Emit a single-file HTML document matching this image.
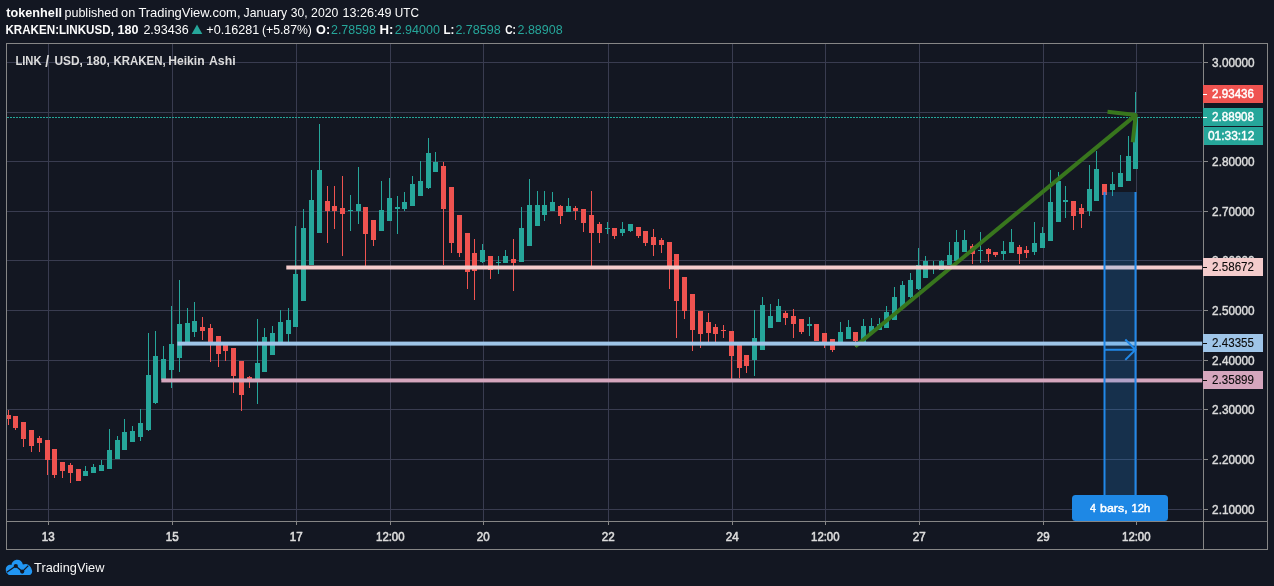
<!DOCTYPE html>
<html lang="en">
<head>
<meta charset="utf-8">
<title>LINK / USD chart by tokenhell - TradingView</title>
<style>
html,body{margin:0;padding:0;background:#131722;}
body{width:1274px;height:586px;overflow:hidden;}
svg{display:block;}
svg text{font-family:"Liberation Sans",sans-serif;white-space:pre;}
</style>
</head>
<body>
<svg width="1274" height="586" viewBox="0 0 1274 586" role="img" aria-label="LINK / USD Heikin Ashi chart">
<defs><clipPath id="plot"><rect x="7" y="44" width="1196" height="477"/></clipPath></defs>
<rect width="1274" height="586" fill="#131722"/>
<text y="17" font-size="13"><tspan x="6.30" textLength="55.68" lengthAdjust="spacingAndGlyphs" fill="#fcfcfc" font-weight="bold">tokenhell</tspan> <tspan x="64.44" textLength="53.70" lengthAdjust="spacingAndGlyphs" fill="#fcfcfc">published</tspan> <tspan x="121.10" textLength="14.16" lengthAdjust="spacingAndGlyphs" fill="#fcfcfc">on</tspan> <tspan x="138.40" textLength="102.11" lengthAdjust="spacingAndGlyphs" fill="#fcfcfc">TradingView.com,</tspan> <tspan x="243.60" textLength="43.54" lengthAdjust="spacingAndGlyphs" fill="#fcfcfc">January</tspan> <tspan x="290.70" textLength="16.80" lengthAdjust="spacingAndGlyphs" fill="#fcfcfc">30,</tspan> <tspan x="311.10" textLength="27.23" lengthAdjust="spacingAndGlyphs" fill="#fcfcfc">2020</tspan> <tspan x="342.43" textLength="48.96" lengthAdjust="spacingAndGlyphs" fill="#fcfcfc">13:26:49</tspan> <tspan x="394.80" textLength="24.15" lengthAdjust="spacingAndGlyphs" fill="#fcfcfc">UTC</tspan></text>
<text y="34" font-size="13"><tspan x="5.41" textLength="108.50" lengthAdjust="spacingAndGlyphs" fill="#fcfcfc" font-weight="bold">KRAKEN:LINKUSD,</tspan> <tspan x="117.50" textLength="20.98" lengthAdjust="spacingAndGlyphs" fill="#fcfcfc" font-weight="bold">180</tspan> <tspan x="143.40" textLength="45.30" lengthAdjust="spacingAndGlyphs" fill="#fcfcfc">2.93436</tspan></text>
<polygon points="191.7,34.1 197,24.6 202.3,34.1" fill="#26a69a"/>
<text y="34" font-size="13"><tspan x="206.30" textLength="52.88" lengthAdjust="spacingAndGlyphs" fill="#fcfcfc">+0.16281</tspan> <tspan x="261.96" textLength="49.96" lengthAdjust="spacingAndGlyphs" fill="#fcfcfc">(+5.87%)</tspan> <tspan x="316.10" textLength="14.12" lengthAdjust="spacingAndGlyphs" fill="#fcfcfc" font-weight="bold">O:</tspan> <tspan x="331.00" textLength="44.90" lengthAdjust="spacingAndGlyphs" fill="#26a69a">2.78598</tspan> <tspan x="379.48" textLength="13.95" lengthAdjust="spacingAndGlyphs" fill="#fcfcfc" font-weight="bold">H:</tspan> <tspan x="394.70" textLength="45.20" lengthAdjust="spacingAndGlyphs" fill="#26a69a">2.94000</tspan> <tspan x="443.41" textLength="10.93" lengthAdjust="spacingAndGlyphs" fill="#fcfcfc" font-weight="bold">L:</tspan> <tspan x="455.40" textLength="45.30" lengthAdjust="spacingAndGlyphs" fill="#26a69a">2.78598</tspan> <tspan x="505.20" textLength="10.66" lengthAdjust="spacingAndGlyphs" fill="#fcfcfc" font-weight="bold">C:</tspan> <tspan x="517.50" textLength="45.10" lengthAdjust="spacingAndGlyphs" fill="#26a69a">2.88908</tspan></text>
<g fill="#393c50" shape-rendering="crispEdges">
<rect x="7" y="62" width="1195" height="1"/>
<rect x="7" y="112" width="1195" height="1"/>
<rect x="7" y="161" width="1195" height="1"/>
<rect x="7" y="211" width="1195" height="1"/>
<rect x="7" y="260" width="1195" height="1"/>
<rect x="7" y="310" width="1195" height="1"/>
<rect x="7" y="360" width="1195" height="1"/>
<rect x="7" y="409" width="1195" height="1"/>
<rect x="7" y="459" width="1195" height="1"/>
<rect x="7" y="509" width="1195" height="1"/>
<rect x="48" y="44" width="1" height="477"/>
<rect x="172" y="44" width="1" height="477"/>
<rect x="296" y="44" width="1" height="477"/>
<rect x="390" y="44" width="1" height="477"/>
<rect x="483" y="44" width="1" height="477"/>
<rect x="608" y="44" width="1" height="477"/>
<rect x="732" y="44" width="1" height="477"/>
<rect x="825" y="44" width="1" height="477"/>
<rect x="919" y="44" width="1" height="477"/>
<rect x="1043" y="44" width="1" height="477"/>
<rect x="1136" y="44" width="1" height="477"/>
</g>
<g shape-rendering="crispEdges" clip-path="url(#plot)">
<path fill="#ef5350" d="M8 410h1v15h-1zM6 415h5v4h-5z"/>
<path fill="#ef5350" d="M15 416h1v14h-1zM13 416h5v12h-5z"/>
<path fill="#ef5350" d="M23 422h1v25h-1zM21 422h5v17h-5z"/>
<path fill="#ef5350" d="M31 430h1v22h-1zM29 430h5v16h-5z"/>
<path fill="#ef5350" d="M39 436h1v16h-1zM37 438h5v5h-5z"/>
<path fill="#ef5350" d="M47 440h1v35h-1zM45 440h5v20h-5z"/>
<path fill="#ef5350" d="M54 449h1v29h-1zM52 449h5v26h-5z"/>
<path fill="#ef5350" d="M62 462h1v16h-1zM60 462h5v9h-5z"/>
<path fill="#ef5350" d="M70 463h1v20h-1zM68 465h5v8h-5z"/>
<path fill="#ef5350" d="M78 469h1v12h-1zM76 469h5v12h-5z"/>
<path fill="#26a69a" d="M85 466h1v10h-1zM83 471h5v5h-5z"/>
<path fill="#26a69a" d="M93 464h1v9h-1zM91 467h5v6h-5z"/>
<path fill="#26a69a" d="M101 460h1v11h-1zM99 465h5v6h-5z"/>
<path fill="#26a69a" d="M109 429h1v40h-1zM107 450h5v19h-5z"/>
<path fill="#26a69a" d="M117 436h1v23h-1zM115 440h5v19h-5z"/>
<path fill="#26a69a" d="M124 419h1v31h-1zM122 432h5v18h-5z"/>
<path fill="#26a69a" d="M132 426h1v16h-1zM130 431h5v11h-5z"/>
<path fill="#26a69a" d="M140 409h1v32h-1zM138 423h5v14h-5z"/>
<path fill="#26a69a" d="M148 333h1v98h-1zM146 375h5v55h-5z"/>
<path fill="#26a69a" d="M155 331h1v73h-1zM153 356h5v47h-5z"/>
<path fill="#26a69a" d="M163 346h1v34h-1zM161 359h5v21h-5z"/>
<path fill="#26a69a" d="M171 306h1v82h-1zM169 344h5v26h-5z"/>
<path fill="#26a69a" d="M179 280h1v92h-1zM177 324h5v34h-5z"/>
<path fill="#26a69a" d="M187 308h1v34h-1zM185 323h5v19h-5z"/>
<path fill="#26a69a" d="M194 302h1v35h-1zM192 321h5v11h-5z"/>
<path fill="#ef5350" d="M202 317h1v23h-1zM200 327h5v4h-5z"/>
<path fill="#ef5350" d="M210 324h1v38h-1zM208 328h5v14h-5z"/>
<path fill="#ef5350" d="M218 336h1v31h-1zM216 336h5v18h-5z"/>
<path fill="#ef5350" d="M225 345h1v16h-1zM223 345h5v6h-5z"/>
<path fill="#ef5350" d="M233 348h1v45h-1zM231 348h5v28h-5z"/>
<path fill="#ef5350" d="M241 361h1v50h-1zM239 361h5v34h-5z"/>
<path fill="#ef5350" d="M249 376h1v12h-1zM247 377h5v3h-5z"/>
<path fill="#26a69a" d="M257 319h1v85h-1zM255 363h5v17h-5z"/>
<path fill="#26a69a" d="M264 328h1v44h-1zM262 337h5v35h-5z"/>
<path fill="#26a69a" d="M272 326h1v29h-1zM270 333h5v22h-5z"/>
<path fill="#26a69a" d="M280 310h1v32h-1zM278 322h5v20h-5z"/>
<path fill="#26a69a" d="M288 308h1v37h-1zM286 320h5v14h-5z"/>
<path fill="#26a69a" d="M295 226h1v101h-1zM293 274h5v53h-5z"/>
<path fill="#26a69a" d="M303 209h1v92h-1zM301 228h5v73h-5z"/>
<path fill="#26a69a" d="M311 170h1v95h-1zM309 200h5v65h-5z"/>
<path fill="#26a69a" d="M319 124h1v109h-1zM317 170h5v63h-5z"/>
<path fill="#ef5350" d="M327 186h1v57h-1zM325 201h5v10h-5z"/>
<path fill="#ef5350" d="M334 186h1v43h-1zM332 206h5v5h-5z"/>
<path fill="#ef5350" d="M342 176h1v80h-1zM340 208h5v6h-5z"/>
<path fill="#26a69a" d="M350 195h1v36h-1zM348 210h5v1h-5z"/>
<path fill="#26a69a" d="M358 167h1v57h-1zM356 204h5v7h-5z"/>
<path fill="#ef5350" d="M365 207h1v59h-1zM363 207h5v27h-5z"/>
<path fill="#ef5350" d="M373 220h1v26h-1zM371 220h5v20h-5z"/>
<path fill="#26a69a" d="M381 181h1v50h-1zM379 210h5v21h-5z"/>
<path fill="#26a69a" d="M389 178h1v43h-1zM387 198h5v23h-5z"/>
<path fill="#26a69a" d="M397 196h1v38h-1zM395 207h5v2h-5z"/>
<path fill="#26a69a" d="M404 192h1v19h-1zM402 202h5v7h-5z"/>
<path fill="#26a69a" d="M412 176h1v30h-1zM410 184h5v22h-5z"/>
<path fill="#26a69a" d="M420 161h1v35h-1zM418 181h5v15h-5z"/>
<path fill="#26a69a" d="M428 138h1v51h-1zM426 153h5v35h-5z"/>
<path fill="#26a69a" d="M435 152h1v20h-1zM433 162h5v10h-5z"/>
<path fill="#ef5350" d="M443 162h1v103h-1zM441 166h5v43h-5z"/>
<path fill="#ef5350" d="M451 187h1v66h-1zM449 187h5v56h-5z"/>
<path fill="#ef5350" d="M459 215h1v42h-1zM457 215h5v38h-5z"/>
<path fill="#ef5350" d="M467 233h1v56h-1zM465 233h5v39h-5z"/>
<path fill="#ef5350" d="M474 239h1v61h-1zM472 253h5v18h-5z"/>
<path fill="#26a69a" d="M482 244h1v19h-1zM480 250h5v12h-5z"/>
<path fill="#ef5350" d="M490 256h1v23h-1zM488 256h5v14h-5z"/>
<path fill="#26a69a" d="M498 256h1v18h-1zM496 262h5v1h-5z"/>
<path fill="#26a69a" d="M505 250h1v13h-1zM503 256h5v7h-5z"/>
<path fill="#ef5350" d="M513 239h1v52h-1zM511 259h5v4h-5z"/>
<path fill="#26a69a" d="M521 207h1v55h-1zM519 228h5v34h-5z"/>
<path fill="#26a69a" d="M529 179h1v67h-1zM527 205h5v41h-5z"/>
<path fill="#26a69a" d="M537 191h1v35h-1zM535 205h5v21h-5z"/>
<path fill="#26a69a" d="M544 191h1v30h-1zM542 205h5v10h-5z"/>
<path fill="#26a69a" d="M552 192h1v19h-1zM550 202h5v9h-5z"/>
<path fill="#ef5350" d="M560 205h1v19h-1zM558 206h5v10h-5z"/>
<path fill="#26a69a" d="M568 198h1v14h-1zM566 206h5v6h-5z"/>
<path fill="#ef5350" d="M575 206h1v14h-1zM573 208h5v3h-5z"/>
<path fill="#ef5350" d="M583 209h1v23h-1zM581 209h5v14h-5z"/>
<path fill="#ef5350" d="M591 191h1v75h-1zM589 215h5v18h-5z"/>
<path fill="#ef5350" d="M599 222h1v21h-1zM597 224h5v9h-5z"/>
<path fill="#26a69a" d="M607 222h1v12h-1zM605 228h5v1h-5z"/>
<path fill="#ef5350" d="M614 228h1v11h-1zM612 228h5v8h-5z"/>
<path fill="#26a69a" d="M622 222h1v14h-1zM620 229h5v4h-5z"/>
<path fill="#26a69a" d="M630 224h1v8h-1zM628 224h5v7h-5z"/>
<path fill="#ef5350" d="M638 227h1v11h-1zM636 227h5v9h-5z"/>
<path fill="#ef5350" d="M645 231h1v15h-1zM643 231h5v12h-5z"/>
<path fill="#ef5350" d="M653 229h1v27h-1zM651 237h5v8h-5z"/>
<path fill="#ef5350" d="M661 238h1v15h-1zM659 240h5v5h-5z"/>
<path fill="#ef5350" d="M669 242h1v47h-1zM667 242h5v25h-5z"/>
<path fill="#ef5350" d="M676 254h1v84h-1zM674 254h5v47h-5z"/>
<path fill="#ef5350" d="M684 277h1v42h-1zM682 277h5v34h-5z"/>
<path fill="#ef5350" d="M692 294h1v57h-1zM690 294h5v36h-5z"/>
<path fill="#ef5350" d="M700 311h1v37h-1zM698 311h5v23h-5z"/>
<path fill="#ef5350" d="M708 313h1v29h-1zM706 322h5v11h-5z"/>
<path fill="#ef5350" d="M715 324h1v18h-1zM713 327h5v7h-5z"/>
<path fill="#ef5350" d="M723 325h1v13h-1zM721 330h5v1h-5z"/>
<path fill="#ef5350" d="M731 331h1v48h-1zM729 331h5v25h-5z"/>
<path fill="#ef5350" d="M739 343h1v35h-1zM737 343h5v25h-5z"/>
<path fill="#ef5350" d="M746 355h1v18h-1zM744 355h5v11h-5z"/>
<path fill="#26a69a" d="M754 310h1v66h-1zM752 338h5v22h-5z"/>
<path fill="#26a69a" d="M762 297h1v53h-1zM760 305h5v45h-5z"/>
<path fill="#26a69a" d="M770 304h1v24h-1zM768 316h5v12h-5z"/>
<path fill="#26a69a" d="M778 299h1v23h-1zM776 306h5v16h-5z"/>
<path fill="#ef5350" d="M785 311h1v14h-1zM783 313h5v5h-5z"/>
<path fill="#ef5350" d="M793 309h1v29h-1zM791 316h5v8h-5z"/>
<path fill="#ef5350" d="M801 319h1v15h-1zM799 319h5v13h-5z"/>
<path fill="#26a69a" d="M809 317h1v19h-1zM807 324h5v2h-5z"/>
<path fill="#ef5350" d="M816 324h1v17h-1zM814 324h5v17h-5z"/>
<path fill="#ef5350" d="M824 333h1v15h-1zM822 333h5v9h-5z"/>
<path fill="#ef5350" d="M832 339h1v13h-1zM830 339h5v11h-5z"/>
<path fill="#26a69a" d="M840 322h1v22h-1zM838 332h5v12h-5z"/>
<path fill="#26a69a" d="M848 320h1v19h-1zM846 327h5v12h-5z"/>
<path fill="#ef5350" d="M855 332h1v15h-1zM853 332h5v9h-5z"/>
<path fill="#26a69a" d="M863 319h1v23h-1zM861 326h5v16h-5z"/>
<path fill="#26a69a" d="M871 318h1v15h-1zM869 326h5v7h-5z"/>
<path fill="#26a69a" d="M879 318h1v12h-1zM877 324h5v6h-5z"/>
<path fill="#26a69a" d="M886 306h1v22h-1zM884 312h5v16h-5z"/>
<path fill="#26a69a" d="M894 287h1v33h-1zM892 297h5v23h-5z"/>
<path fill="#26a69a" d="M902 281h1v26h-1zM900 285h5v22h-5z"/>
<path fill="#26a69a" d="M910 273h1v25h-1zM908 280h5v17h-5z"/>
<path fill="#26a69a" d="M918 248h1v42h-1zM916 265h5v24h-5z"/>
<path fill="#26a69a" d="M925 256h1v22h-1zM923 261h5v17h-5z"/>
<path fill="#26a69a" d="M933 261h1v13h-1zM931 267h5v1h-5z"/>
<path fill="#26a69a" d="M941 260h1v10h-1zM939 261h5v9h-5z"/>
<path fill="#26a69a" d="M949 242h1v23h-1zM947 255h5v10h-5z"/>
<path fill="#26a69a" d="M956 230h1v31h-1zM954 242h5v19h-5z"/>
<path fill="#26a69a" d="M964 230h1v22h-1zM962 240h5v12h-5z"/>
<path fill="#ef5350" d="M972 244h1v20h-1zM970 246h5v8h-5z"/>
<path fill="#26a69a" d="M980 232h1v31h-1zM978 250h5v1h-5z"/>
<path fill="#ef5350" d="M988 248h1v14h-1zM986 249h5v5h-5z"/>
<path fill="#ef5350" d="M995 252h1v5h-1zM993 252h5v3h-5z"/>
<path fill="#26a69a" d="M1003 241h1v19h-1zM1001 251h5v3h-5z"/>
<path fill="#26a69a" d="M1011 229h1v24h-1zM1009 242h5v11h-5z"/>
<path fill="#ef5350" d="M1019 245h1v19h-1zM1017 247h5v7h-5z"/>
<path fill="#ef5350" d="M1026 246h1v12h-1zM1024 250h5v3h-5z"/>
<path fill="#26a69a" d="M1034 222h1v33h-1zM1032 243h5v9h-5z"/>
<path fill="#26a69a" d="M1042 227h1v21h-1zM1040 233h5v15h-5z"/>
<path fill="#26a69a" d="M1050 170h1v71h-1zM1048 202h5v39h-5z"/>
<path fill="#26a69a" d="M1058 172h1v50h-1zM1056 181h5v41h-5z"/>
<path fill="#26a69a" d="M1065 186h1v32h-1zM1063 200h5v2h-5z"/>
<path fill="#ef5350" d="M1073 201h1v29h-1zM1071 201h5v15h-5z"/>
<path fill="#ef5350" d="M1081 204h1v24h-1zM1079 208h5v6h-5z"/>
<path fill="#26a69a" d="M1089 165h1v51h-1zM1087 189h5v22h-5z"/>
<path fill="#26a69a" d="M1096 151h1v50h-1zM1094 169h5v32h-5z"/>
<path fill="#ef5350" d="M1104 184h1v11h-1zM1102 184h5v11h-5z"/>
<path fill="#26a69a" d="M1112 172h1v24h-1zM1110 184h5v6h-5z"/>
<path fill="#26a69a" d="M1120 155h1v32h-1zM1118 173h5v14h-5z"/>
<path fill="#26a69a" d="M1128 136h1v45h-1zM1126 156h5v25h-5z"/>
<path fill="#26a69a" d="M1135 92h1v77h-1zM1133 117h5v52h-5z"/>
</g>
<line x1="7" y1="117.5" x2="1202" y2="117.5" stroke="#26a69a" stroke-width="1" stroke-dasharray="2 1" shape-rendering="crispEdges"/>
<g fill="none" stroke="#38761d" stroke-width="4" stroke-linecap="butt">
<path d="M855.2 346.5L1135.7 115.1"/>
<path d="M1107.5 111.8L1135.7 115.1L1132.7 142.2" stroke-linejoin="round"/>
</g>
<g>
<rect x="286.3" y="265.5" width="915.9" height="4" fill="#f4cccc"/>
<rect x="177.4" y="341.6" width="1024.8" height="4" fill="#9fc5e8"/>
<rect x="161.3" y="378.45" width="1040.9" height="4" fill="#d5a6bd"/>
</g>
<g clip-path="url(#plot)">
<rect x="1104.5" y="192" width="31" height="330" fill="#2196f3" fill-opacity="0.2"/>
<rect x="1103.5" y="192" width="2" height="330" fill="#2188e8"/>
<rect x="1134.5" y="192" width="2" height="330" fill="#2188e8"/>
<path d="M1104.5 349.7H1135.5M1125.3 339.5L1135.5 349.7L1125.3 359.9" fill="none" stroke="#2188e8" stroke-width="2"/>
</g>
<text y="65" font-size="12.5"><tspan x="15.40" textLength="26.15" lengthAdjust="spacingAndGlyphs" fill="#dcdcdc" font-weight="bold">LINK</tspan> <tspan x="45.30" textLength="3.83" lengthAdjust="spacingAndGlyphs" fill="#dcdcdc" font-weight="bold" font-size="16" y="67">/</tspan> <tspan x="54.40" textLength="28.43" lengthAdjust="spacingAndGlyphs" fill="#dcdcdc" font-weight="bold" y="65">USD,</tspan> <tspan x="86.30" textLength="23.53" lengthAdjust="spacingAndGlyphs" fill="#dcdcdc" font-weight="bold">180,</tspan> <tspan x="113.48" textLength="52.19" lengthAdjust="spacingAndGlyphs" fill="#dcdcdc" font-weight="bold">KRAKEN,</tspan> <tspan x="168.23" textLength="36.37" lengthAdjust="spacingAndGlyphs" fill="#dcdcdc" font-weight="bold">Heikin</tspan> <tspan x="209.00" textLength="26.57" lengthAdjust="spacingAndGlyphs" fill="#dcdcdc" font-weight="bold">Ashi</tspan></text>
<rect x="1072" y="495" width="96" height="26" rx="3.5" fill="#1e88e5"/>
<text y="512" font-size="11.5"><tspan x="1090.00" textLength="5.95" lengthAdjust="spacingAndGlyphs" fill="#fff" stroke="#fff" stroke-width="0.45">4</tspan> <tspan x="1100.00" textLength="27.62" lengthAdjust="spacingAndGlyphs" fill="#fff" stroke="#fff" stroke-width="0.45">bars,</tspan> <tspan x="1131.50" textLength="18.68" lengthAdjust="spacingAndGlyphs" fill="#fff" stroke="#fff" stroke-width="0.45">12h</tspan></text>
<g fill="#868686" shape-rendering="crispEdges">
<rect x="6" y="43" width="1262" height="1"/>
<rect x="6" y="549" width="1262" height="1"/>
<rect x="6" y="43" width="1" height="507"/>
<rect x="1267" y="43" width="1" height="507"/>
<rect x="1203" y="43" width="1" height="507"/>
<rect x="6" y="521" width="1262" height="1"/>
<rect x="1204" y="62" width="4" height="1"/>
<rect x="1204" y="161" width="4" height="1"/>
<rect x="1204" y="211" width="4" height="1"/>
<rect x="1204" y="260" width="4" height="1"/>
<rect x="1204" y="310" width="4" height="1"/>
<rect x="1204" y="360" width="4" height="1"/>
<rect x="1204" y="409" width="4" height="1"/>
<rect x="1204" y="459" width="4" height="1"/>
<rect x="1204" y="509" width="4" height="1"/>
<rect x="48" y="522" width="1" height="3"/>
<rect x="172" y="522" width="1" height="3"/>
<rect x="296" y="522" width="1" height="3"/>
<rect x="390" y="522" width="1" height="3"/>
<rect x="483" y="522" width="1" height="3"/>
<rect x="608" y="522" width="1" height="3"/>
<rect x="732" y="522" width="1" height="3"/>
<rect x="825" y="522" width="1" height="3"/>
<rect x="919" y="522" width="1" height="3"/>
<rect x="1043" y="522" width="1" height="3"/>
<rect x="1136" y="522" width="1" height="3"/>
</g>
<text y="67" font-size="12"><tspan x="1212.10" textLength="42.48" lengthAdjust="spacingAndGlyphs" fill="#dcdcdc" stroke="#dcdcdc" stroke-width="0.45">3.00000</tspan></text>
<text y="166" font-size="12"><tspan x="1212.10" textLength="42.48" lengthAdjust="spacingAndGlyphs" fill="#dcdcdc" stroke="#dcdcdc" stroke-width="0.45">2.80000</tspan></text>
<text y="216" font-size="12"><tspan x="1212.10" textLength="42.48" lengthAdjust="spacingAndGlyphs" fill="#dcdcdc" stroke="#dcdcdc" stroke-width="0.45">2.70000</tspan></text>
<text y="265" font-size="12"><tspan x="1212.10" textLength="42.48" lengthAdjust="spacingAndGlyphs" fill="#dcdcdc" stroke="#dcdcdc" stroke-width="0.45">2.60000</tspan></text>
<text y="315" font-size="12"><tspan x="1212.10" textLength="42.48" lengthAdjust="spacingAndGlyphs" fill="#dcdcdc" stroke="#dcdcdc" stroke-width="0.45">2.50000</tspan></text>
<text y="365" font-size="12"><tspan x="1212.10" textLength="42.48" lengthAdjust="spacingAndGlyphs" fill="#dcdcdc" stroke="#dcdcdc" stroke-width="0.45">2.40000</tspan></text>
<text y="414" font-size="12"><tspan x="1212.10" textLength="42.48" lengthAdjust="spacingAndGlyphs" fill="#dcdcdc" stroke="#dcdcdc" stroke-width="0.45">2.30000</tspan></text>
<text y="464" font-size="12"><tspan x="1212.10" textLength="42.48" lengthAdjust="spacingAndGlyphs" fill="#dcdcdc" stroke="#dcdcdc" stroke-width="0.45">2.20000</tspan></text>
<text y="514" font-size="12"><tspan x="1212.10" textLength="42.48" lengthAdjust="spacingAndGlyphs" fill="#dcdcdc" stroke="#dcdcdc" stroke-width="0.45">2.10000</tspan></text>
<text y="541" font-size="12.3"><tspan x="41.80" textLength="12.91" lengthAdjust="spacingAndGlyphs" fill="#dcdcdc" stroke="#dcdcdc" stroke-width="0.6">13</tspan></text>
<text y="541" font-size="12.3"><tspan x="165.80" textLength="12.91" lengthAdjust="spacingAndGlyphs" fill="#dcdcdc" stroke="#dcdcdc" stroke-width="0.6">15</tspan></text>
<text y="541" font-size="12.3"><tspan x="289.80" textLength="12.91" lengthAdjust="spacingAndGlyphs" fill="#dcdcdc" stroke="#dcdcdc" stroke-width="0.6">17</tspan></text>
<text y="541" font-size="12.3"><tspan x="376.05" textLength="28.50" lengthAdjust="spacingAndGlyphs" fill="#dcdcdc" stroke="#dcdcdc" stroke-width="0.6">12:00</tspan></text>
<text y="541" font-size="12.3"><tspan x="476.80" textLength="12.91" lengthAdjust="spacingAndGlyphs" fill="#dcdcdc" stroke="#dcdcdc" stroke-width="0.6">20</tspan></text>
<text y="541" font-size="12.3"><tspan x="601.80" textLength="12.91" lengthAdjust="spacingAndGlyphs" fill="#dcdcdc" stroke="#dcdcdc" stroke-width="0.6">22</tspan></text>
<text y="541" font-size="12.3"><tspan x="725.80" textLength="12.91" lengthAdjust="spacingAndGlyphs" fill="#dcdcdc" stroke="#dcdcdc" stroke-width="0.6">24</tspan></text>
<text y="541" font-size="12.3"><tspan x="811.05" textLength="28.50" lengthAdjust="spacingAndGlyphs" fill="#dcdcdc" stroke="#dcdcdc" stroke-width="0.6">12:00</tspan></text>
<text y="541" font-size="12.3"><tspan x="912.80" textLength="12.91" lengthAdjust="spacingAndGlyphs" fill="#dcdcdc" stroke="#dcdcdc" stroke-width="0.6">27</tspan></text>
<text y="541" font-size="12.3"><tspan x="1036.80" textLength="12.91" lengthAdjust="spacingAndGlyphs" fill="#dcdcdc" stroke="#dcdcdc" stroke-width="0.6">29</tspan></text>
<text y="541" font-size="12.3"><tspan x="1122.05" textLength="28.50" lengthAdjust="spacingAndGlyphs" fill="#dcdcdc" stroke="#dcdcdc" stroke-width="0.6">12:00</tspan></text>
<rect x="1203" y="85" width="60" height="18" fill="#ef5350" shape-rendering="crispEdges"/>
<rect x="1203" y="94" width="4" height="1" fill="#fff" shape-rendering="crispEdges"/>
<text y="98" font-size="12"><tspan x="1212.10" textLength="41.88" lengthAdjust="spacingAndGlyphs" fill="#fff" stroke="#fff" stroke-width="0.45">2.93436</tspan></text>
<rect x="1203" y="108" width="60" height="18" fill="#26a69a" shape-rendering="crispEdges"/>
<rect x="1203" y="117" width="4" height="1" fill="#fff" shape-rendering="crispEdges"/>
<text y="121" font-size="12"><tspan x="1212.10" textLength="41.88" lengthAdjust="spacingAndGlyphs" fill="#fff" stroke="#fff" stroke-width="0.45">2.88908</tspan></text>
<rect x="1204" y="127" width="59" height="18" fill="#26a69a" shape-rendering="crispEdges"/>
<text y="140" font-size="12"><tspan x="1207.90" textLength="46.52" lengthAdjust="spacingAndGlyphs" fill="#fff" stroke="#fff" stroke-width="0.45">01:33:12</tspan></text>
<rect x="1203" y="258" width="60" height="18" fill="#f4cccc" shape-rendering="crispEdges"/>
<rect x="1203" y="267" width="4" height="1" fill="#0a0a0a" shape-rendering="crispEdges"/>
<text y="271" font-size="12"><tspan x="1212.10" textLength="41.88" lengthAdjust="spacingAndGlyphs" fill="#0a0a0a" stroke="#0a0a0a" stroke-width="0.1">2.58672</tspan></text>
<rect x="1203" y="334" width="60" height="18" fill="#9fc5e8" shape-rendering="crispEdges"/>
<rect x="1203" y="343" width="4" height="1" fill="#0a0a0a" shape-rendering="crispEdges"/>
<text y="347" font-size="12"><tspan x="1212.10" textLength="41.88" lengthAdjust="spacingAndGlyphs" fill="#0a0a0a" stroke="#0a0a0a" stroke-width="0.1">2.43355</tspan></text>
<rect x="1203" y="371" width="60" height="18" fill="#d5a6bd" shape-rendering="crispEdges"/>
<rect x="1203" y="380" width="4" height="1" fill="#0a0a0a" shape-rendering="crispEdges"/>
<text y="384" font-size="12"><tspan x="1212.10" textLength="41.88" lengthAdjust="spacingAndGlyphs" fill="#0a0a0a" stroke="#0a0a0a" stroke-width="0.1">2.35899</tspan></text>
<g transform="translate(6,560)">
<path d="M2.8 15L23.3 15C25.2 15 26.2 13.2 26.2 11C25.7 7.9 23.4 4 19.8 3.9C18.7 3.9 17.7 4.1 16.9 4.4C16.2 1.7 14.1 -0.2 11.3 -0.2C8.3 -0.2 5.9 2 5.5 4.9C5.2 4.8 4.8 4.8 4.5 4.8C1.9 4.8 -0.2 6.9 -0.2 9.4L0 12.3Z" fill="#2196f3"/>
<path d="M0.7 12.3L9.8 6L16.2 11.6L22.3 5.6" fill="none" stroke="#131722" stroke-width="1.3"/>
<circle cx="9.8" cy="6" r="2.1" fill="#131722"/><circle cx="16.2" cy="11.6" r="2.1" fill="#131722"/>
</g>
<text y="572" font-size="13"><tspan x="34.10" textLength="70.26" lengthAdjust="spacingAndGlyphs" fill="#f6f6f6">TradingView</tspan></text>
</svg>
</body>
</html>
